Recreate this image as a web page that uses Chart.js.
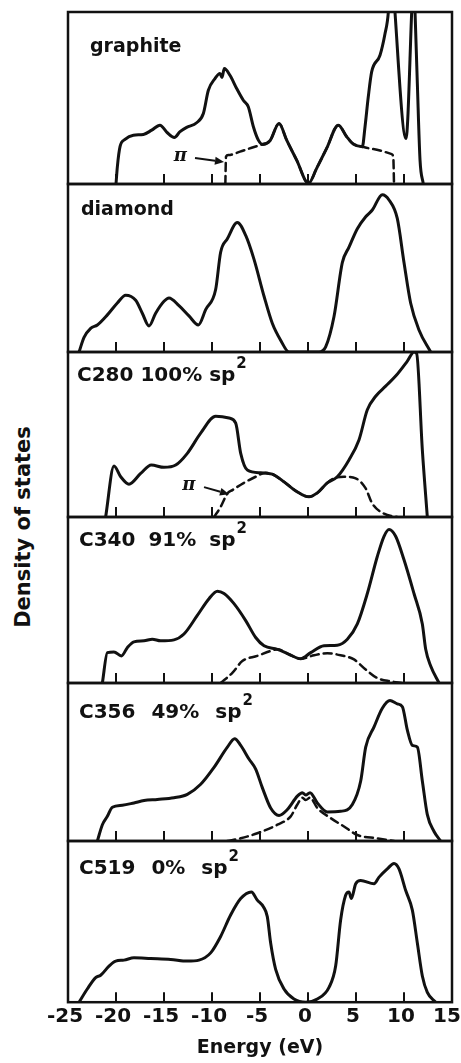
<!DOCTYPE html>
<html>
<head>
<meta charset="utf-8">
<title>Density of states</title>
<script src="https://cdn.jsdelivr.net/npm/chart.js@4/dist/chart.umd.min.js"></script>
<style>
  html, body { margin: 0; padding: 0; background: #fff; }
  #wrap { position: relative; width: 461px; height: 1063px; overflow: hidden; }
  #wrap canvas { position: absolute; left: 0; }
  #ytitle {
    position: absolute; left: 23px; top: 527px;
    transform: translate(-50%, -50%) rotate(-90deg);
    font: bold 21px "DejaVu Sans", sans-serif; color: #111; white-space: nowrap;
  }
</style>
</head>
<body>
<div id="wrap">
  <div id="ytitle">Density of states</div>
</div>
<script>
const FONT = '"DejaVu Sans", "Liberation Sans", sans-serif';
const INK = '#111';

// energy axis (eV)
const xTicks = [-25, -20, -15, -10, -5, 0, 5, 10, 15];
const innerTicks = [-20, -15, -10, -5, 0, 5, 10];

// panel names, second list is set as superscript
const panelNames = ['graphite', 'diamond', 'C280 100% sp', 'C340 91% sp', 'C356 49% sp', 'C519 0% sp'];
const panelSup = ['', '', '2', '2', '2', '2'];

// [energy, DOS] pairs, DOS in arbitrary units (0..100 per panel)
const graphiteDos = [[-20.0,0],[-19.86,10],[-19.58,21.7],[-19.06,25.9],[-18.19,28.4],[-17.15,28.8],[-16.28,31.3],
  [-15.42,34.2],[-14.65,29.8],[-13.92,27.1],[-13.33,30.4],[-12.64,32.9],[-11.6,35.6],[-10.9,41],[-10.38,54.5],
  [-9.69,61.3],[-9.17,64.2],[-8.96,61.9],[-8.72,67.1],[-8.13,63.2],[-7.43,55.5],[-6.74,48.7],[-6.22,44.9],
  [-5.69,33.3],[-5.17,25.5],[-4.72,23],[-3.96,25.1],[-3.02,35.2],[-2.22,25.5],[-1.18,13.9],[0.05,0.4],[0.9,9.1],
  [1.94,20.7],[3.16,34.2],[4.03,27.5],[4.72,23.2],[5.66,21.7],[5.94,33.3],[6.28,50.7],[6.63,65.2],[7.5,74.9],
  [8.02,87.4],[8.37,100],[8.7,135],[9.06,100],[10.21,26.5],[10.8,100],[11.0,130],[11.15,100],[11.39,58.4],
  [11.67,13.9],[12.01,0]];
const graphitePi = [[-8.61,0],[-8.54,15.9],[-8.3,16.8],[-7.08,18.8],[-5.87,21.1],[-4.79,23],[-3.96,25.1],
  [-3.02,35.2],[-2.22,25.5],[-1.18,13.9],[0.05,0.4],[0.9,9.1],[1.94,20.7],[3.16,34.2],[4.03,27.5],[4.72,23.2],
  [5.66,21.7],[6.8,20.3],[8.72,17.4],[8.89,14.9],[8.96,0]];

const diamondDos = [[-23.85,0],[-23.33,8.7],[-22.64,14.1],[-21.94,16.1],[-20.9,22.1],[-19.86,29.2],[-18.99,33.8],
  [-17.95,30.8],[-17.26,23.1],[-16.56,15.5],[-15.87,23.1],[-15.0,30.2],[-14.48,32.2],[-13.44,27.6],[-12.4,21.5],
  [-11.42,16.1],[-10.66,25.2],[-9.62,37.2],[-9.1,59.4],[-8.4,67.4],[-7.36,77.1],[-6.49,69.4],[-5.63,55.3],
  [-4.58,33.2],[-3.72,17.1],[-2.85,7],[-1.98,0],[1.15,0],[1.84,3],[2.71,21.1],[3.58,53.3],[4.27,62.4],[5.14,73.4],
  [6.01,80.5],[6.7,84.5],[7.74,93.6],[8.44,90.5],[9.3,79.5],[10.0,53.3],[10.69,29.2],[11.56,13.1],[12.78,0]];

const c280Dos = [[-21.08,0],[-20.21,30.9],[-19.51,24.4],[-18.65,19.9],[-17.43,26.4],[-16.32,31.5],[-15.0,30.1],
  [-13.78,31.5],[-12.57,38.6],[-11.18,50.8],[-9.62,61],[-8.23,60],[-7.53,56.9],[-7.01,38.6],[-6.32,28.5],
  [-4.93,26.8],[-3.72,26],[-2.5,21.3],[-1.11,15.2],[0.1,12.2],[0.97,14.6],[2.01,20.7],[3.05,24.4],[4.27,34.6],
  [5.31,46.7],[6.18,65],[7.05,73.2],[8.09,79.3],[9.13,85.4],[10.35,94.5],[11.04,100],[11.32,99],[11.91,40.7],[12.43,0]];
const c280Pi = [[-9.79,0],[-9.1,6.1],[-8.4,14.2],[-7.88,16.3],[-6.67,20.7],[-5.45,24.4],[-4.41,26.8],[-3.72,26],
  [-2.5,21.3],[-1.11,15.2],[0.1,12.2],[0.97,14.6],[2.01,20.7],[2.71,23.4],[3.75,24.4],[4.97,23.4],[6.01,17.3],
  [6.7,8.1],[7.92,2],[9.3,0]];

const c340Dos = [[-21.42,0],[-20.9,18.3],[-20.21,18.7],[-19.44,16.3],[-18.82,21.3],[-18.13,24.8],[-17.08,25.4],
  [-16.22,26.4],[-15.35,25.4],[-13.96,26],[-12.92,29.5],[-11.53,40.7],[-10.31,50.8],[-9.44,55.3],[-8.75,53.9],
  [-7.71,47.8],[-6.49,37.6],[-5.45,27.4],[-4.58,22.4],[-3.19,20.3],[-1.98,17.3],[-0.76,14.6],[0.28,18.3],
  [1.67,22.4],[3.05,22.8],[4.1,26.4],[5.14,35.6],[6.18,53.9],[7.22,76.2],[7.92,88.4],[8.44,92.5],[9.13,88.4],
  [10.0,74.2],[11.04,53.9],[11.91,35.6],[12.26,20.3],[12.78,10.2],[13.65,0]];
const c340Pi = [[-9.1,0],[-7.88,6.1],[-6.84,13.2],[-5.28,16.3],[-3.89,19.3],[-3.19,20.3],[-1.98,17.3],[-0.76,14.6],
  [0.63,16.7],[2.01,17.9],[3.4,16.7],[4.79,14.2],[6.01,8.1],[7.22,3],[8.61,1],[9.83,0]];

const c356Dos = [[-21.94,0],[-21.42,10.3],[-20.9,15.6],[-20.38,21.4],[-19.34,22.6],[-18.13,24.1],[-17.08,25.6],
  [-15.69,26.3],[-13.96,27.4],[-12.57,29.5],[-11.18,35.9],[-9.79,46.6],[-8.4,59.4],[-7.64,64.7],[-7.01,60.5],
  [-6.15,51.9],[-5.45,45.5],[-4.76,33.8],[-3.89,20.9],[-3.02,16.2],[-2.15,19.9],[-1.11,28.4],[-0.59,30.6],
  [-0.24,29.1],[0.21,30.6],[0.97,24.1],[2.01,18.4],[3.4,18.8],[4.62,23.1],[5.49,38],[6.01,59.4],[6.88,72.2],
  [7.74,84],[8.54,88.9],[9.3,86.8],[9.83,85],[10.35,70.1],[10.87,60.5],[11.39,59.4],[11.91,38],[12.43,16.7],
  [13.13,6],[13.82,0]];
const c356Pi = [[-8.4,0],[-7.01,1.7],[-5.28,4.9],[-3.19,10.3],[-1.8,15.6],[-1.11,23.1],[-0.59,27.4],[-0.24,25.9],
  [0.21,27.4],[0.97,20.9],[2.36,14.5],[3.75,9.2],[5.14,3.8],[7.22,1.7],[8.96,0]];

const c519Dos = [[-23.85,0],[-22.99,8.2],[-22.12,15.3],[-21.6,16.7],[-20.73,22.4],[-20.03,25.5],[-19.17,26.1],
  [-18.13,27.6],[-16.39,27.1],[-14.3,26.5],[-12.57,25.5],[-11.35,26.1],[-10.14,30.6],[-9.1,40.8],[-8.06,54.1],
  [-7.01,64.3],[-5.9,68.4],[-5.28,63.3],[-4.65,59.2],[-4.24,53.1],[-3.89,36.7],[-3.37,20.4],[-2.5,8.2],[-1.46,2],
  [-0.24,0],[0.97,2],[2.19,9.2],[2.88,22.4],[3.4,51],[3.92,66.3],[4.27,68.4],[4.51,64.3],[4.97,73.5],[5.49,75.5],
  [6.88,73.5],[7.4,77.6],[8.26,82.7],[8.96,86.1],[9.48,82.7],[10.17,69.4],[10.87,57.1],[11.39,36.7],[11.91,16.3],
  [12.43,6.1],[13.3,0]];

// pi-band pointers: label position, arrow tail and tip in data units
const piMarks = [
  { panel: 0, at: [-13.3, 15.9], from: [-11.77, 15.1], to: [-8.75, 12.8] },
  { panel: 2, at: [-12.4, 19.3], from: [-10.83, 18.1], to: [-8.23, 13.8] }
];

// page layout
const panelEdges = [12, 184, 352, 517, 683, 841, 1005];
const PAGE_H = 1063, CANVAS_W = 480, LEFT = 68, RIGHT = 452, PAD = 4;

const panels = [
  { solid: graphiteDos, dashed: graphitePi, label: { dx: 22, dy: 40, size: 19, gap: 0 } },
  { solid: diamondDos, dashed: null, label: { dx: 13, dy: 31, size: 19, gap: 0 } },
  { solid: c280Dos, dashed: c280Pi, label: { dx: 9, dy: 29, size: 20, gap: 0 } },
  { solid: c340Dos, dashed: c340Pi, label: { dx: 11, dy: 29, size: 20, gap: 6 } },
  { solid: c356Dos, dashed: c356Pi, label: { dx: 11, dy: 35, size: 20, gap: 9 } },
  { solid: c519Dos, dashed: null, label: { dx: 11, dy: 33, size: 20, gap: 9 } }
];

const toXY = pts => pts.map(([e, d]) => ({ x: e, y: d }));

function drawArrow(ctx, x0, y0, x1, y1) {
  const ang = Math.atan2(y1 - y0, x1 - x0), len = 9, half = 4;
  const bx = x1 - len * Math.cos(ang), by = y1 - len * Math.sin(ang);
  ctx.lineWidth = 2;
  ctx.beginPath(); ctx.moveTo(x0, y0); ctx.lineTo(bx, by); ctx.stroke();
  ctx.beginPath();
  ctx.moveTo(x1, y1);
  ctx.lineTo(bx + half * Math.sin(ang), by - half * Math.cos(ang));
  ctx.lineTo(bx - half * Math.sin(ang), by + half * Math.cos(ang));
  ctx.closePath(); ctx.fill();
}

function decorations(p, i) {
  return {
    id: 'panelDeco',
    afterDatasetsDraw(chart) {
      const { ctx, chartArea: a, scales: { x, y } } = chart;
      ctx.save();
      ctx.strokeStyle = INK; ctx.fillStyle = INK;
      ctx.lineWidth = 2.5;
      ctx.strokeRect(a.left, a.top, a.right - a.left, a.bottom - a.top);

      // ticks point inwards from each panel's bottom edge
      ctx.lineWidth = 2;
      ctx.beginPath();
      innerTicks.forEach(v => {
        const px = Math.round(x.getPixelForValue(v));
        ctx.moveTo(px, a.bottom); ctx.lineTo(px, a.bottom - 10);
      });
      ctx.stroke();

      const tx = a.left + p.label.dx, ty = a.top + p.label.dy;
      ctx.font = `bold ${p.label.size}px ${FONT}`;
      ctx.textAlign = 'left'; ctx.textBaseline = 'alphabetic';
      if ('wordSpacing' in ctx) ctx.wordSpacing = p.label.gap + 'px';
      ctx.fillText(panelNames[i], tx, ty);
      if (panelSup[i]) {
        const w = ctx.measureText(panelNames[i]).width;
        ctx.font = `bold 15px ${FONT}`;
        ctx.fillText(panelSup[i], tx + w + 1, ty - 13);
      }
      if ('wordSpacing' in ctx) ctx.wordSpacing = '0px';

      piMarks.filter(m => m.panel === i).forEach(m => {
        ctx.font = 'italic bold 18px "DejaVu Serif", serif';
        ctx.textAlign = 'center'; ctx.textBaseline = 'middle';
        ctx.fillText('π', x.getPixelForValue(m.at[0]), y.getPixelForValue(m.at[1]));
        drawArrow(ctx, x.getPixelForValue(m.from[0]), y.getPixelForValue(m.from[1]),
                       x.getPixelForValue(m.to[0]), y.getPixelForValue(m.to[1]));
      });
      ctx.restore();
    }
  };
}

const wrap = document.getElementById('wrap');

panels.forEach((p, i) => {
  const top = panelEdges[i], bottom = panelEdges[i + 1];
  const last = i === panels.length - 1;
  const h = last ? PAGE_H - (top - PAD) : bottom - top + 2 * PAD;
  const canvas = document.createElement('canvas');
  canvas.width = CANVAS_W; canvas.height = h;
  canvas.style.width = CANVAS_W + 'px'; canvas.style.height = h + 'px';
  canvas.style.top = (top - PAD) + 'px';
  wrap.appendChild(canvas);

  const datasets = [{ data: toXY(p.solid), borderColor: INK, borderWidth: 3 }];
  if (p.dashed) datasets.push({ data: toXY(p.dashed), borderColor: INK, borderWidth: 2.5, borderDash: [8, 5] });

  new Chart(canvas, {
    type: 'line',
    data: { datasets },
    options: {
      responsive: false,
      animation: false,
      events: [],
      layout: { padding: { left: LEFT, right: CANVAS_W - RIGHT, top: PAD, bottom: last ? 0 : PAD } },
      elements: {
        point: { radius: 0 },
        line: { cubicInterpolationMode: 'monotone', fill: false, borderCapStyle: 'round', borderJoinStyle: 'round' }
      },
      plugins: { legend: { display: false }, tooltip: { enabled: false } },
      scales: {
        x: {
          type: 'linear', min: -25, max: 15, display: last,
          afterBuildTicks: s => { s.ticks = xTicks.map(v => ({ value: v })); },
          grid: { display: false, drawTicks: false },
          border: { display: false },
          ticks: {
            color: INK, font: { family: FONT, size: 20, weight: 'bold' }, padding: 3,
            maxRotation: 0, autoSkip: false, labelOffset: -3,
            // keep the last label inside the page edge
            callback: v => v === 15 ? '15\u2009' : String(v)
          },
          title: { display: true, text: 'Energy (eV)', color: INK, font: { family: FONT, size: 19, weight: 'bold' }, padding: { top: 4, bottom: 4 } }
        },
        y: { min: 0, max: 100, display: false }
      }
    },
    plugins: [decorations(p, i)]
  });
});
</script>
</body>
</html>
